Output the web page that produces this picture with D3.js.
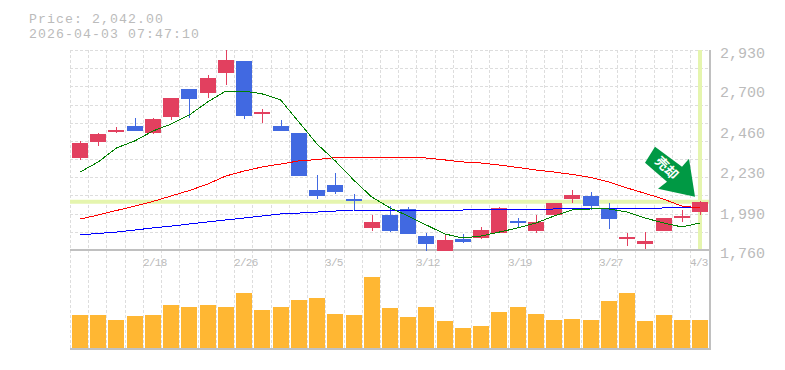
<!DOCTYPE html>
<html>
<head>
<meta charset="utf-8">
<script src="https://cdn.jsdelivr.net/npm/d3@7"></script>
<style>
html, body { margin: 0; padding: 0; background: #fff; }
text { font-family: "Liberation Mono", "DejaVu Sans Mono", monospace; fill: #bbb; }
</style>
</head>
<body>
<div id="chart"></div>
<script>
const dates = ['2/12','2/13','2/14','2/16','2/18','2/19','2/20','2/24','2/25','2/26','2/27','3/2','3/3','3/4','3/5','3/6','3/9','3/10','3/11','3/12','3/13','3/16','3/17','3/18','3/19','3/23','3/24','3/25','3/26','3/27','3/30','3/31','4/1','4/2','4/3'];
const tickDates = ['2/18','2/26','3/5','3/12','3/19','3/27','4/3'];
const priceTicks = [2930, 2700, 2460, 2230, 1990, 1760];

const opens  = [2298,2392,2450,2485,2446,2538,2702,2678,2796,2866,2558,2485,2444,2111,2140,2058,1889,1965,2000,1842,1754,1824,1830,1859,1930,1871,1965,2058,2076,2006,1824,1795,1871,1947,1982];
const closes = [2386,2439,2462,2456,2526,2649,2643,2766,2872,2544,2567,2456,2193,2076,2099,2047,1924,1871,1854,1795,1818,1807,1877,2006,1918,1924,2035,2082,2017,1941,1836,1813,1947,1959,2042];
const highs  = [2398,2445,2480,2532,2532,2649,2702,2784,2930,2866,2585,2520,2444,2199,2210,2088,1965,2017,2012,1859,1848,1854,1895,2012,1947,1965,2035,2111,2099,2035,1859,1865,1947,1994,2047];
const lows   = [2287,2368,2444,2456,2439,2520,2532,2649,2725,2526,2503,2456,2193,2058,2088,1994,1871,1865,1854,1754,1754,1801,1824,1859,1895,1859,1965,2035,1994,1883,1783,1766,1871,1924,1965];
const volumes = [33,33,28,32,33,43,41,43,41,55,38,41,48,50,34,33,71,40,31,41,27,20,22,36,41,34,28,29,28,47,55,27,33,28,28];

const maShort = [2216,2275,2357,2398,2456,2497,2550,2626,2690,2690,2673,2638,2509,2380,2281,2170,2070,2006,1959,1906,1854,1830,1842,1865,1889,1918,1959,1994,2000,2000,1982,1947,1918,1895,1918];
const maMid   = [1941,1965,1991,2017,2044,2076,2108,2146,2193,2222,2246,2263,2281,2289,2301,2304,2304,2304,2304,2298,2287,2275,2269,2257,2243,2228,2216,2202,2184,2158,2123,2091,2058,2017,2006];
const maLong  = [1848,1857,1865,1877,1889,1900,1912,1924,1936,1947,1959,1971,1976,1982,1988,1994,1994,1994,1994,1994,1994,1994,1997,1997,1997,1997,2000,2000,2000,2000,2000,2000,2006,2006,2006];

const lastPrice = 2042;
const title = ['Price: 2,042.00', '2026-04-03 07:47:10'];
const signal = '売却';

const width = 785, height = 370;
const plotLeft = 70, plotRight = 710, plotTop = 50, plotMid = 250, plotBottom = 349;
const barWidth = 16;

const x = d3.scaleLinear().domain([0, dates.length - 1]).range([80, 700]);
const y = d3.scaleLinear().domain([1760, 2930]).range([plotMid, plotTop]);
const yVol = d3.scaleLinear().domain([0, 100]).range([348, 248]);

const svg = d3.select('#chart').append('svg')
    .attr('width', width)
    .attr('height', height)
    .style('display', 'block');

// title
svg.selectAll('.title').data(title).enter().append('text')
    .attr('x', 29)
    .attr('y', (d, i) => 23 + i * 15)
    .style('font-size', '13.2px')
    .style('letter-spacing', '1.08px')
    .text(d => d);

// grid
const gridColor = '#ddd';
const grid = svg.append('g')
    .attr('stroke', gridColor)
    .attr('stroke-dasharray', '3,2')
    .attr('shape-rendering', 'crispEdges');

d3.range(0, 11).forEach(i => {
    const gy = Math.round(plotTop + i * (plotMid - plotTop) / 11);
    grid.append('line').attr('x1', plotLeft).attr('x2', plotRight).attr('y1', gy).attr('y2', gy);
});
d3.range(0, 35).forEach(i => {
    const gx = Math.round(x(i) - barWidth / 2 - 2);
    grid.append('line').attr('x1', gx).attr('x2', gx).attr('y1', plotTop).attr('y2', plotBottom);
});

// current price cross
const hl = svg.append('g').attr('stroke', '#e5f5ae').attr('stroke-width', 4);
hl.append('line').attr('x1', plotLeft).attr('x2', plotRight).attr('y1', y(lastPrice)).attr('y2', y(lastPrice));
hl.append('line').attr('x1', x(34)).attr('x2', x(34)).attr('y1', plotTop).attr('y2', plotMid - 1);

// frame
const frame = svg.append('g').attr('stroke', '#c0c0c0').attr('stroke-width', 2);
frame.append('line').attr('x1', plotLeft).attr('x2', plotRight + 1).attr('y1', plotMid).attr('y2', plotMid);
frame.append('line').attr('x1', plotLeft).attr('x2', plotRight + 1).attr('y1', plotBottom).attr('y2', plotBottom);
frame.append('line').attr('x1', plotRight).attr('x2', plotRight).attr('y1', plotTop).attr('y2', plotBottom);

// volume
svg.selectAll('.vol').data(volumes).enter().append('rect')
    .attr('x', (d, i) => Math.round(x(i) - barWidth / 2))
    .attr('y', d => yVol(d))
    .attr('width', barWidth)
    .attr('height', d => yVol(0) - yVol(d))
    .attr('fill', '#ffb733');

// candles
const colorUp = '#e2405f', colorDown = '#4169e1';
const candles = svg.append('g').attr('shape-rendering', 'crispEdges');
dates.forEach((d, i) => {
    const c = closes[i] >= opens[i] ? colorUp : colorDown;
    const cx = Math.round(x(i));
    const t = y(Math.max(opens[i], closes[i]));
    const b = y(Math.min(opens[i], closes[i]));
    candles.append('line')
        .attr('x1', cx).attr('x2', cx)
        .attr('y1', y(highs[i])).attr('y2', y(lows[i]))
        .attr('stroke', c);
    candles.append('rect')
        .attr('x', cx - barWidth / 2)
        .attr('y', t)
        .attr('width', barWidth)
        .attr('height', Math.max(b - t, 1))
        .attr('fill', c);
});

// moving averages
const maLine = d3.line().x((d, i) => x(i)).y(d => y(d));
[[maLong, '#0000ff'], [maMid, '#ff0000'], [maShort, '#008000']].forEach(([vals, color]) => {
    svg.append('path')
        .attr('d', maLine(vals))
        .attr('fill', 'none')
        .attr('stroke', color)
        .attr('stroke-width', 1)
        .attr('shape-rendering', 'crispEdges');
});

// signal arrow
const arrow = svg.append('g')
    .attr('transform', `translate(${x(34)},${y(lastPrice) - 5})`);
arrow.append('path')
    .attr('d', 'M-45,-50 L-18,-30 L-11,-38 L-5,0 L-42,-8 L-33,-15 L-55,-34 Z')
    .attr('fill', '#009944');
arrow.append('text')
    .attr('transform', 'translate(-34,-28) rotate(45)')
    .attr('text-anchor', 'middle')
    .attr('dominant-baseline', 'middle')
    .style('font-family', '"Noto Sans CJK JP"')
    .style('font-size', '13px')
    .style('font-weight', 'bold')
    .style('fill', '#fff')
    .text(signal);

// axis labels
svg.selectAll('.ptick').data(priceTicks).enter().append('text')
    .attr('x', 720)
    .attr('y', d => y(d) + 8)
    .style('font-size', '15px')
    .text(d => d3.format(',')(d));

svg.selectAll('.dtick').data(tickDates).enter().append('text')
    .attr('x', d => Math.round(x(dates.indexOf(d)) - barWidth / 2 - 2))
    .attr('y', 266)
    .style('font-size', '11px')
    .style('letter-spacing', '-0.7px')
    .text(d => d);
</script>
</body>
</html>
